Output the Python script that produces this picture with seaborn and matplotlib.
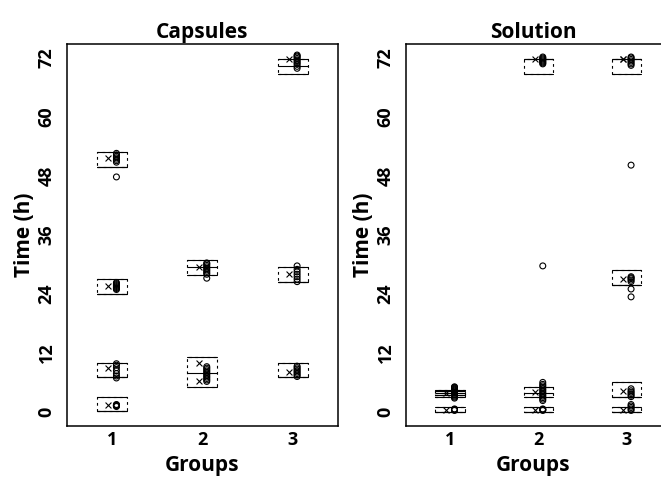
import numpy as np
import pandas as pd
import matplotlib
matplotlib.use("Agg")
import matplotlib.pyplot as plt
from matplotlib.transforms import ScaledTranslation
import seaborn as sns

# sampling windows: panel, group, low, median, high
win_panel = ["Capsules"] * 9 + ["Solution"] * 10
win_group = [1, 1, 1, 1, 2, 2, 3, 3, 3,
             1, 1, 1, 2, 2, 2, 3, 3, 3, 3]
win_low = [0.1, 7.0, 24.0, 49.9, 5.1, 27.9, 7.05, 26.4, 68.8,
           0.0, 3.0, 3.4, 0.0, 3.0, 68.8, 0.0, 3.1, 25.9, 68.8]
win_med = [0.1, 7.0, 24.0, 49.9, 8.0, 29.4, 7.05, 26.4, 70.3,
           0.0, 3.4, 3.9, 0.0, 3.9, 71.7, 0.0, 3.1, 25.9, 71.7]
win_high = [3.0, 10.0, 27.0, 52.9, 11.1, 30.9, 10.0, 29.4, 71.7,
            0.95, 4.5, 4.2, 0.95, 5.0, 71.7, 1.0, 6.0, 28.9, 71.7]

# observed times per group
cap_g1 = [1.1, 1.2, 1.3, 1.3, 1.4, 1.5,
          6.9, 7.3, 7.8, 8.4, 9.0, 9.5, 9.8,
          24.9, 25.1, 25.3, 25.5, 25.7, 25.9, 26.1, 26.3,
          47.8, 50.8, 51.1, 51.4, 51.7, 52.0, 52.3, 52.6]
cap_g2 = [6.2, 6.5, 6.8, 7.1, 7.4, 7.7, 8.0, 8.3, 8.6, 8.9, 9.2,
          27.2, 28.0, 28.3, 28.6, 28.9, 29.2, 29.5, 29.8, 30.1, 30.3]
cap_g3 = [7.2, 7.5, 7.8, 8.1, 8.4, 8.7, 9.0, 9.3,
          26.5, 27.0, 27.5, 28.0, 28.5, 29.0, 29.7,
          69.9, 70.3, 70.7, 71.0, 71.3, 71.6, 71.9, 72.2, 72.4, 72.6]
sol_g1 = [0.3, 0.4, 0.5, 0.6,
          2.8, 3.0, 3.2, 3.4, 3.6, 3.8, 4.0, 4.2, 4.4, 4.6, 4.8, 5.0, 5.1]
sol_g2 = [0.3, 0.4, 0.5, 0.6,
          2.3, 2.6, 2.9, 3.2, 3.5, 3.8, 4.1, 4.4, 4.7, 5.0, 5.3, 5.6, 6.0,
          29.7, 70.8, 71.0, 71.2, 71.4, 71.6, 71.8, 72.0, 72.2]
sol_g3 = [0.3, 0.6, 0.9, 1.2, 1.5,
          3.1, 3.4, 3.7, 4.0, 4.3, 4.7,
          23.4, 25.0, 26.5, 26.8, 27.1, 27.3, 27.5,
          50.2, 70.5, 70.8, 71.1, 71.4, 71.7, 72.0, 72.2]

# mean markers
mean_panel = ["Capsules"] * 10 + ["Solution"] * 10
mean_group = [1, 1, 1, 1, 2, 2, 2, 3, 3, 3,
              1, 1, 2, 2, 2, 3, 3, 3, 3, 3]
mean_value = [1.3, 9.0, 25.7, 51.6, 9.9, 6.3, 29.4, 8.2, 28.0, 71.7,
              0.4, 3.9, 0.4, 4.0, 71.7, 0.3, 4.3, 27.0, 71.7, 71.7]

y_ticks = [0, 12, 24, 36, 48, 60, 72]
groups = [1, 2, 3]


def build_frames():
    rows = []
    for i in range(len(win_low)):
        for v in [win_low[i], win_low[i], win_med[i], win_high[i], win_high[i]]:
            rows.append((win_panel[i], win_group[i], i, v))
    boxes = pd.DataFrame(rows, columns=["panel", "group", "window", "time"])

    pts = []
    for panel, g, vals in [("Capsules", 1, cap_g1), ("Capsules", 2, cap_g2),
                           ("Capsules", 3, cap_g3), ("Solution", 1, sol_g1),
                           ("Solution", 2, sol_g2), ("Solution", 3, sol_g3)]:
        for v in vals:
            pts.append((panel, g, v))
    points = pd.DataFrame(pts, columns=["panel", "group", "time"])

    means = pd.DataFrame({"panel": mean_panel, "group": mean_group, "time": mean_value})
    return boxes, points, means


def shift(fig, ax, dx_px):
    # nudge the last scatter sideways, in pixels
    ax.collections[-1].set_offset_transform(
        ax.transData + ScaledTranslation(dx_px / fig.dpi, 0, fig.dpi_scale_trans))


def draw_panel(fig, ax, title, boxes, points, means):
    b = boxes[boxes["panel"] == title]
    n_win = b["window"].nunique()
    sns.boxplot(data=b, x="group", y="time", hue="window", native_scale=True,
                dodge=False, width=0.33, fill=False, legend=False,
                palette=["black"] * n_win, linewidth=0.8, ax=ax,
                capwidths=0.33,
                boxprops={"linestyle": (0, (2.5, 3))},
                medianprops={"linewidth": 0.8, "color": "black"},
                capprops={"linewidth": 0.8, "color": "black"},
                whiskerprops={"linewidth": 0.8, "color": "black"})

    p = points[points["panel"] == title]
    sns.scatterplot(data=p, x="group", y="time", marker="o", s=18,
                    facecolors="none", edgecolor="black", linewidth=0.8,
                    legend=False, ax=ax)
    shift(fig, ax, 4.5)

    m = means[means["panel"] == title]
    sns.scatterplot(data=m, x="group", y="time", marker="x", s=18,
                    color="black", linewidth=0.8, legend=False, ax=ax)
    shift(fig, ax, -3.5)

    ax.set_ylim(-2.85, 74.85)
    ax.set_yticks(y_ticks)
    ax.set_yticklabels([str(t) for t in y_ticks], rotation=90, va="center",
                       fontweight="bold", fontsize=13)
    ax.set_xticks(groups)
    ax.set_xticklabels([str(g) for g in groups], fontweight="bold", fontsize=13)
    ax.tick_params(direction="in", length=6, width=0.8, color="#555555",
                   labelcolor="black")
    ax.tick_params(axis="y", pad=8)
    ax.tick_params(axis="x", pad=4)
    ax.set_xlabel("Groups", fontweight="bold", fontsize=15, labelpad=4,
                  color="black")
    ax.set_ylabel("Time (h)", fontweight="bold", fontsize=15, labelpad=2,
                  color="black")
    ax.set_title(title, fontweight="bold", fontsize=15, pad=4, color="black")
    for s in ax.spines.values():
        s.set_linewidth(1.1)
        s.set_color("black")


def main():
    sns.set_theme(style="white")
    plt.rcParams["font.family"] = ["Open Sans", "DejaVu Sans"]
    boxes, points, means = build_frames()

    fig = plt.figure(figsize=(6.61, 4.78), dpi=100)
    ax1 = fig.add_axes([0.101, 0.109, 0.410, 0.799])
    ax2 = fig.add_axes([0.614, 0.109, 0.386, 0.799])

    draw_panel(fig, ax1, "Capsules", boxes, points, means)
    ax1.set_xlim(0.5, 3.5)
    draw_panel(fig, ax2, "Solution", boxes, points, means)
    ax2.set_xlim(0.5, 3.39)
    ax2.spines["right"].set_visible(False)

    fig.savefig("out.png", dpi=100)
    plt.close(fig)


if __name__ == "__main__":
    main()
